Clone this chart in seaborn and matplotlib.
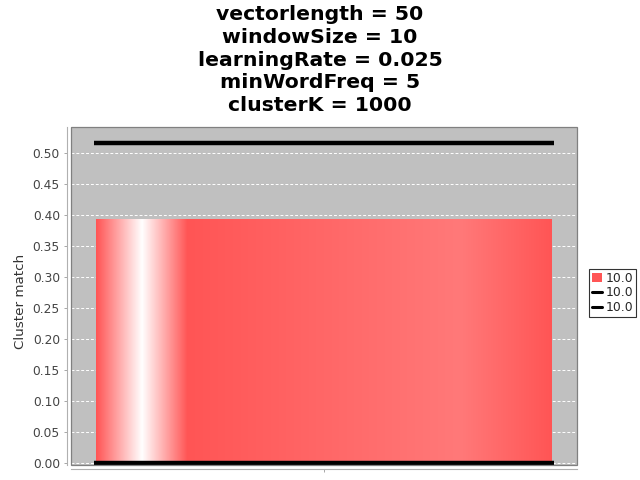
import numpy as np
import pandas as pd
import matplotlib
matplotlib.use('Agg')
import matplotlib.pyplot as plt
from matplotlib.patches import Patch, Rectangle
from matplotlib.lines import Line2D
import seaborn as sns

sns.set_style("ticks")
plt.rcParams['font.family'] = ['DejaVu Sans']

# == data
categories = ['10.0']
bar_values = [0.393]
line_upper = [0.517]
line_lower = [0.0]
legend_labels = ['10.0', '10.0', '10.0']
title_lines = ['vectorlength = 50', 'windowSize = 10', 'learningRate = 0.025',
               'minWordFreq = 5', 'clusterK = 1000']
yticks = np.arange(0, 0.501, 0.05)

df = pd.DataFrame({'cat': categories, 'value': bar_values})

fig = plt.figure(figsize=(6.4, 4.8), dpi=100)
ax = fig.add_axes([71/640, 1-465/480, 506/640, 338/480])
ax.set_facecolor('#c0c0c0')

sns.barplot(data=df, x='cat', y='value', color='#ff5555', width=0.9,
            saturation=1, ax=ax, zorder=2)

# == jfreechart style gradient on the bar
base = np.array([255, 85, 85]) / 255
bright = np.array([255, 121, 121]) / 255
white = np.array([1.0, 1.0, 1.0])
n = 400
t = np.linspace(0, 1, n)
grad = np.zeros((n, 3))
for i, f in enumerate(t):
    if f < 0.1:
        a = f/0.1; grad[i] = base*(1-a) + white*a
    elif f < 0.2:
        a = (f-0.1)/0.1; grad[i] = white*(1-a) + base*a
    elif f < 0.8:
        a = (f-0.2)/0.6; grad[i] = base*(1-a) + bright*a
    else:
        a = (f-0.8)/0.2; grad[i] = bright*(1-a) + base*a
for p in ax.patches:
    x0, w, h = p.get_x(), p.get_width(), p.get_height()
    p.set_facecolor('none'); p.set_edgecolor('none')
    im = ax.imshow(grad[np.newaxis, :, :], extent=[x0, x0+w, 0, h],
                   aspect='auto', zorder=2, interpolation='bilinear')
    im.set_clip_path(p)

# == the two line series, drawn as flat segments across the category
for vals in (line_upper, line_lower):
    for i, v in enumerate(vals):
        ax.hlines(v, i-0.455, i+0.455, color='black', lw=3.2, zorder=3)

ax.set_xlim(-0.5, 0.5)
ax.set_ylim(-0.003, 0.542)
ax.set_yticks(yticks)
ax.set_yticklabels(['{:.2f}'.format(v) for v in yticks])
ax.yaxis.grid(True, color='white', ls=(0, (3, 2)), lw=0.7, zorder=1)
ax.set_axisbelow(True)
ax.set_xticks([0])
ax.set_xticklabels([''])
ax.set_xlabel('')
ax.set_ylabel('Cluster match', fontsize=9.7, color='#333333')
ax.yaxis.set_label_coords(-0.087, 0.485)
ax.tick_params(axis='y', labelsize=8.8, labelcolor='#444444', length=2,
               width=0.6, color='#999999', pad=3)
ax.tick_params(axis='x', length=2, width=0.6, color='#999999')

for s in ['top', 'right']:
    ax.spines[s].set_visible(False)
for s in ['left', 'bottom']:
    ax.spines[s].set_position(('outward', 3))
    ax.spines[s].set_color('#b0b0b0')
    ax.spines[s].set_linewidth(0.8)
ax.add_patch(Rectangle((0, 0), 1, 1, transform=ax.transAxes, fill=False,
                       edgecolor='#808080', lw=0.9, zorder=5, clip_on=False))

handles = [Patch(facecolor='#ff5555', edgecolor='none'),
           Line2D([], [], color='black', lw=2.2),
           Line2D([], [], color='black', lw=2.2)]
leg = fig.legend(handles, legend_labels, loc='center left',
                 bbox_to_anchor=(589/640, 1-293/480), fontsize=8.9,
                 frameon=True, fancybox=False, handlelength=0.8,
                 handleheight=0.7, handletextpad=0.3, labelspacing=0.15,
                 borderpad=0.25, borderaxespad=0)
leg.get_frame().set_edgecolor('black')
leg.get_frame().set_linewidth(0.8)

fig.text(0.5, 1-5/480, '\n'.join(title_lines), ha='center', va='top',
         fontsize=14.7, fontweight='bold', linespacing=1.25, color='black')

fig.savefig('out.png', dpi=100)
